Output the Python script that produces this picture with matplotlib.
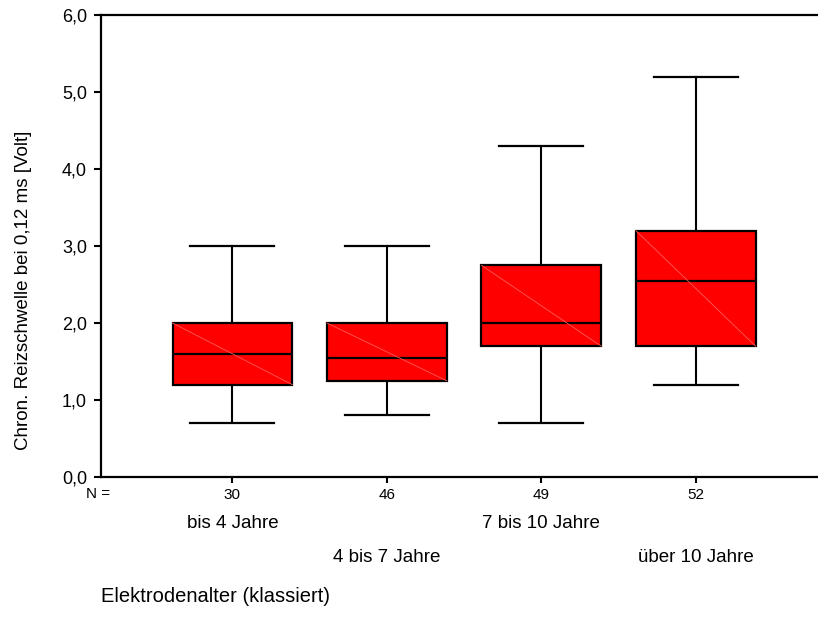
import matplotlib.pyplot as plt
from matplotlib.ticker import FuncFormatter

plt.rcParams['font.family'] = ['Liberation Sans', 'DejaVu Sans']

# Kennwerte je Altersklasse: Minimum, Q1, Median, Q3, Maximum
groups = ['bis 4 Jahre', '4 bis 7 Jahre', '7 bis 10 Jahre', 'über 10 Jahre']
n_values = [30, 46, 49, 52]
whislo = [0.7, 0.8, 0.7, 1.2]
q1 = [1.2, 1.25, 1.7, 1.7]
med = [1.6, 1.55, 2.0, 2.55]
q3 = [2.0, 2.0, 2.75, 3.2]
whishi = [3.0, 3.0, 4.3, 5.2]

stats = []
for i in range(len(groups)):
    stats.append({'whislo': whislo[i], 'q1': q1[i], 'med': med[i],
                  'q3': q3[i], 'whishi': whishi[i], 'fliers': []})

fig = plt.figure(figsize=(8.18, 6.35), dpi=100)
ax = fig.add_axes([101 / 818, 1 - 477 / 635, 1 - 101 / 818, (477 - 15) / 635])

pos = [1, 2, 3, 4]
bw = 0.775
ax.bxp(stats, positions=pos, widths=bw, capwidths=0.545, patch_artist=True,
       showfliers=False,
       boxprops=dict(facecolor='#ff0000', edgecolor='black', linewidth=1.6),
       medianprops=dict(color='black', linewidth=1.6),
       whiskerprops=dict(color='black', linewidth=1.5),
       capprops=dict(color='black', linewidth=1.6))

# feine Diagonale in jeder Box
for p, lo, hi in zip(pos, q1, q3):
    ax.plot([p - bw / 2, p + bw / 2], [hi, lo], color='#ff5a5a', lw=0.6, zorder=3)

ax.set_xlim(1 - 131 / 154, 1 + 584 / 154)
ax.set_ylim(0, 6)
ax.set_yticks([0, 1, 2, 3, 4, 5, 6])
ax.yaxis.set_major_formatter(FuncFormatter(lambda v, _: f'{v:.1f}'.replace('.', ',')))
ax.set_xticks(pos)
ax.set_xticklabels([str(n) for n in n_values], fontsize=11)
ax.tick_params(axis='y', labelsize=13, length=5, width=1.5, pad=5)
ax.tick_params(axis='x', length=4, width=1.5, pad=4)

for s in ['left', 'bottom', 'top']:
    ax.spines[s].set_linewidth(1.6)
ax.spines['right'].set_visible(False)

xt = ax.get_xaxis_transform()
ax.text(1 + (100.5 - 234) / 154, -17.5 / 462, 'N =', transform=xt, fontsize=11,
        ha='center', va='center')
for i, g in enumerate(groups):
    y = -46 / 462 if i % 2 == 0 else -81 / 462
    ax.text(pos[i], y, g, transform=xt, fontsize=13.5, ha='center', va='center')

ax.set_ylabel('Chron. Reizschwelle bei 0,12 ms [Volt]', fontsize=13.5)
ax.yaxis.set_label_coords(-69 / 717, 0.405)
fig.text(101 / 818, 1 - 597 / 635, 'Elektrodenalter (klassiert)', fontsize=14.5,
         ha='left', va='center')

fig.savefig('out.png', dpi=100)
